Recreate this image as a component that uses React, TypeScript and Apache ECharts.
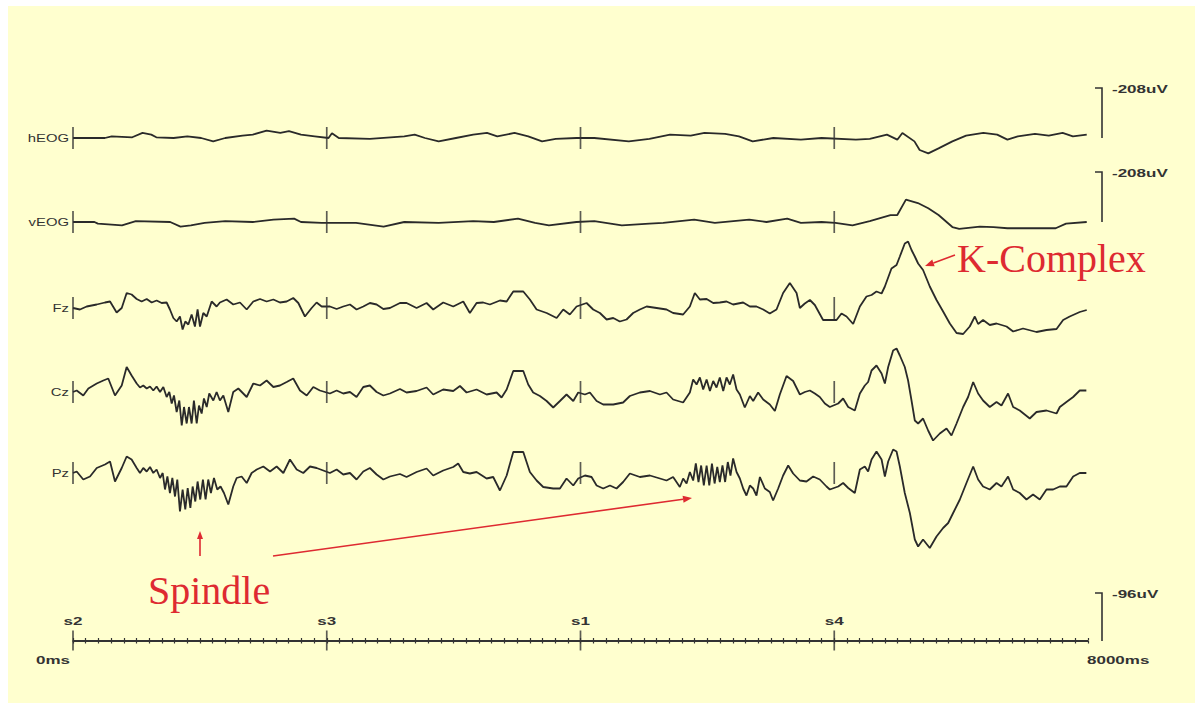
import React, { useEffect, useRef } from "react";
import * as echarts from "echarts";

// ---------- data ----------
const channelNames = ["hEOG", "vEOG", "Fz", "Cz", "Pz"];

// [time ms, amplitude µV]  (negative = upward, EEG convention)
const hEOG: number[][] = [[0,0],[251,0],[305,-7],[467,-3],[548,-21],[617,-14],[657,-3],[793,0],[901,-7],[1010,0],[1105,14],[1200,0],[1336,-10],[1417,-14],[1526,-31],[1634,-21],[1702,-29],[1797,-14],[1905,-7],[2014,0],[2041,-20],[2095,0],[2340,4],[2611,-7],[2693,-14],[2774,0],[2882,14],[3018,0],[3154,-14],[3263,-21],[3344,-7],[3480,-21],[3588,-7],[3697,14],[3805,4],[3968,0],[4109,0],[4381,14],[4543,4],[4706,-14],[4869,-10],[4977,-21],[5140,-17],[5249,-7],[5357,14],[5520,0],[5737,7],[5900,0],[6171,7],[6280,4],[6415,-14],[6497,7],[6537,-21],[6632,14],[6673,50],[6741,64],[6822,43],[6931,14],[7039,-10],[7175,-21],[7284,-14],[7365,7],[7447,-7],[7582,-17],[7691,-10],[7800,-21],[7881,-7],[7990,-14]];

const vEOG: number[][] = [[0,0],[169,0],[196,7],[386,14],[495,-4],[766,0],[847,19],[929,14],[1037,4],[1200,-4],[1417,0],[1580,-10],[1743,-14],[1797,0],[1960,4],[2069,4],[2231,4],[2448,19],[2611,0],[2882,4],[3154,-4],[3317,0],[3507,-14],[3642,4],[3751,14],[3968,0],[4109,-4],[4326,14],[4543,7],[4652,4],[4896,-10],[5059,4],[5330,-10],[5466,0],[5629,-14],[5737,4],[5900,0],[6009,4],[6144,14],[6280,-4],[6443,-29],[6497,-29],[6565,-93],[6659,-79],[6741,-57],[6822,-29],[6931,21],[6985,29],[7148,19],[7256,21],[7365,26],[7745,26],[7827,7],[7990,0]];

const Fz: number[][] = [[0,0],[55,3],[108,-3],[187,-7],[252,-11],[292,-13],[344,9],[384,0],[423,-30],[462,-27],[502,-18],[541,-13],[581,-18],[620,-11],[659,-15],[699,-10],[738,-11],[764,3],[791,20],[817,27],[843,17],[864,43],[885,27],[909,33],[935,13],[961,37],[982,3],[1001,37],[1027,10],[1054,17],[1093,-13],[1132,-3],[1158,-11],[1211,-17],[1263,-7],[1316,-11],[1369,3],[1421,-13],[1474,-18],[1526,-13],[1579,-17],[1631,-11],[1684,-13],[1736,-20],[1776,-10],[1828,17],[1881,0],[1920,-11],[1960,-3],[2025,-3],[2078,2],[2130,-3],[2183,-7],[2235,3],[2288,-3],[2340,-10],[2393,-7],[2446,2],[2498,0],[2577,-10],[2629,-10],[2708,0],[2787,-10],[2839,3],[2918,-11],[2997,-3],[3076,-13],[3128,10],[3181,-10],[3233,-11],[3286,-7],[3365,-15],[3418,-13],[3470,-33],[3549,-33],[3601,-17],[3654,3],[3733,10],[3812,20],[3864,3],[3916,13],[3969,-3],[4048,-10],[4100,3],[4153,10],[4206,23],[4258,20],[4310,27],[4363,23],[4415,10],[4468,3],[4521,-3],[4600,0],[4678,3],[4730,10],[4809,13],[4862,-3],[4901,-30],[4941,-17],[4994,-18],[5046,-10],[5098,-11],[5151,-13],[5203,-7],[5282,-11],[5335,-3],[5387,-3],[5440,3],[5492,11],[5545,3],[5597,-30],[5650,-50],[5703,-30],[5729,0],[5768,-9],[5808,-16],[5847,-6],[5912,24],[5965,24],[6018,24],[6057,11],[6097,17],[6149,32],[6202,-3],[6254,-23],[6294,-26],[6333,-33],[6373,-29],[6399,-43],[6451,-79],[6491,-86],[6517,-103],[6556,-129],[6582,-133],[6609,-116],[6635,-103],[6661,-89],[6700,-76],[6753,-43],[6806,-16],[6858,7],[6911,31],[6964,50],[7016,52],[7068,37],[7108,17],[7134,32],[7173,24],[7226,34],[7279,31],[7358,37],[7410,47],[7488,41],[7594,48],[7673,44],[7752,42],[7804,24],[7856,17],[7935,8],[7990,4]];

const Cz: number[][] = [[0,0],[29,-3],[81,7],[121,-7],[187,-17],[239,-23],[278,-27],[331,7],[384,-13],[423,-50],[462,-33],[502,-17],[528,-9],[554,-13],[581,-7],[607,-11],[633,-3],[659,-11],[686,0],[712,-10],[738,10],[759,0],[778,23],[796,7],[817,40],[838,17],[857,67],[875,30],[896,63],[914,30],[935,63],[953,17],[975,63],[993,27],[1014,43],[1032,13],[1054,30],[1074,3],[1106,17],[1132,0],[1158,17],[1185,7],[1224,40],[1263,0],[1303,-7],[1369,10],[1421,-17],[1474,-13],[1526,-23],[1579,-10],[1631,-13],[1684,-20],[1736,-27],[1789,-3],[1842,7],[1894,-10],[1946,-3],[2025,3],[2078,-3],[2130,3],[2183,0],[2235,10],[2288,-10],[2340,-13],[2393,0],[2446,7],[2498,3],[2577,-6],[2629,1],[2708,-2],[2787,-9],[2839,5],[2918,-5],[2997,-2],[3050,-12],[3102,1],[3181,-5],[3260,5],[3339,1],[3378,11],[3418,-5],[3470,-42],[3549,-42],[3588,-15],[3627,1],[3680,8],[3733,18],[3785,31],[3838,18],[3890,5],[3943,18],[3982,1],[4035,5],[4074,1],[4127,18],[4179,25],[4258,25],[4336,21],[4389,8],[4468,1],[4547,-2],[4626,5],[4678,1],[4730,15],[4809,21],[4862,1],[4888,-25],[4915,-15],[4941,-29],[4967,-5],[4994,-25],[5020,-2],[5046,-22],[5072,-9],[5098,-29],[5125,-2],[5151,-29],[5177,-15],[5203,-35],[5230,-5],[5256,5],[5295,31],[5335,8],[5361,18],[5400,1],[5440,15],[5492,25],[5532,38],[5571,5],[5624,-32],[5676,-22],[5729,5],[5768,0],[5808,-3],[5847,3],[5886,10],[5926,23],[5965,30],[6031,23],[6070,13],[6110,30],[6162,37],[6202,3],[6241,-13],[6267,-20],[6294,-43],[6333,-53],[6373,-37],[6399,-17],[6425,-50],[6464,-83],[6491,-87],[6517,-73],[6556,-50],[6582,-23],[6609,17],[6635,57],[6661,63],[6700,53],[6740,77],[6779,97],[6832,83],[6885,73],[6924,87],[6964,63],[7016,30],[7055,10],[7095,-20],[7134,3],[7173,17],[7226,30],[7279,20],[7318,27],[7370,3],[7410,30],[7462,37],[7541,53],[7594,40],[7673,37],[7752,43],[7778,30],[7830,20],[7883,10],[7935,-3],[7987,-3]];

const Pz: number[][] = [[0,0],[29,-3],[81,13],[134,7],[187,-10],[252,-17],[292,-23],[331,17],[384,-10],[423,-33],[462,-27],[502,-10],[528,0],[554,-10],[581,-3],[607,-12],[633,0],[659,-7],[686,10],[707,0],[725,33],[744,7],[764,40],[783,10],[804,47],[822,13],[843,77],[864,33],[885,73],[904,30],[925,70],[943,27],[964,57],[982,17],[1003,53],[1024,13],[1045,53],[1066,13],[1087,40],[1111,10],[1137,33],[1163,27],[1190,40],[1224,63],[1263,27],[1290,10],[1329,7],[1369,20],[1408,0],[1448,-7],[1500,-13],[1553,-3],[1605,-13],[1658,0],[1710,-27],[1763,-7],[1815,0],[1868,-13],[1920,-10],[2025,0],[2078,-7],[2130,3],[2183,0],[2235,13],[2288,-3],[2340,-10],[2393,3],[2446,13],[2498,7],[2577,2],[2629,8],[2708,-2],[2787,-9],[2839,5],[2918,-5],[2997,-12],[3036,-19],[3076,-2],[3128,1],[3181,-2],[3260,11],[3312,8],[3365,35],[3418,5],[3470,-42],[3549,-42],[3601,-2],[3654,15],[3706,28],[3785,31],[3838,31],[3890,11],[3943,25],[3982,11],[4035,5],[4087,8],[4127,25],[4179,31],[4232,25],[4284,31],[4336,18],[4389,1],[4468,8],[4547,5],[4626,11],[4678,15],[4730,8],[4783,28],[4809,11],[4836,21],[4862,-2],[4888,15],[4909,-19],[4930,18],[4951,-15],[4972,25],[4994,-15],[5015,25],[5036,-19],[5057,21],[5078,-12],[5098,18],[5119,-15],[5140,18],[5161,-22],[5182,5],[5203,-29],[5230,-2],[5256,11],[5282,31],[5308,45],[5335,25],[5361,31],[5387,45],[5414,8],[5453,31],[5492,38],[5518,55],[5558,31],[5597,5],[5637,-15],[5676,1],[5729,15],[5781,17],[5834,7],[5886,13],[5939,27],[5965,33],[6031,27],[6070,20],[6110,30],[6162,40],[6202,-7],[6241,-13],[6267,-3],[6294,-27],[6333,-43],[6373,-27],[6399,7],[6425,-23],[6464,-47],[6491,-43],[6517,-13],[6556,40],[6596,80],[6635,133],[6661,147],[6700,133],[6753,150],[6806,127],[6858,110],[6898,100],[6937,80],[6990,53],[7042,20],[7095,-13],[7134,13],[7173,27],[7226,33],[7279,20],[7318,27],[7370,7],[7410,33],[7462,40],[7515,53],[7567,43],[7620,53],[7673,33],[7725,33],[7778,27],[7830,27],[7883,7],[7935,0],[7987,0]];

const channelData = [hEOG, vEOG, Fz, Cz, Pz];

const markerTimes = [0, 2000, 4000, 6000];
const markerLabels = ["s2", "s3", "s1", "s4"];
const timeStart = 0;
const timeEnd = 8000;
const timeTickStep = 100;
const timeRangeLabels = ["0ms", "8000ms"];
const scaleBarValues = [208, 208, 96];
const scaleBarLabels = ["-208uV", "-208uV", "-96uV"];

// ---------- layout / style ----------
const PLOT_LEFT = 73;
const PLOT_RIGHT = 1088;
const PLOT_W = PLOT_RIGHT - PLOT_LEFT;
const baselines = [138, 222, 308, 392, 473];
const uvPerPx = [4.16, 4.16, 2, 2, 2];
const AXIS_Y = 640;
const HALF = 100;
const TRACE = "#2a2a2a";
const INK = "#333";
const RED = "#DE2A31";

const tx = (t: number) => PLOT_LEFT + ((t - timeStart) / (timeEnd - timeStart)) * PLOT_W;

function arrow(x1: number, y1: number, x2: number, y2: number, L = 9, w = 3.5) {
  const dx = x2 - x1, dy = y2 - y1;
  const len = Math.hypot(dx, dy);
  const ux = dx / len, uy = dy / len;
  const bx = x2 - ux * L, by = y2 - uy * L;
  const nx = -uy, ny = ux;
  return [
    { type: "line", silent: true, shape: { x1, y1, x2: bx, y2: by }, style: { stroke: RED, lineWidth: 1.6 } },
    { type: "polygon", silent: true, shape: { points: [[x2, y2], [bx + nx * w, by + ny * w], [bx - nx * w, by - ny * w]] }, style: { fill: RED } },
  ];
}

function smallText(text: string, x: number, y: number, align: string, size = 10, sx = 1.7, weight = "bold") {
  return {
    type: "text",
    silent: true,
    x,
    y,
    scaleX: sx,
    style: {
      text,
      fill: INK,
      font: `${weight} ${size}px "Liberation Sans", Arial, sans-serif`,
      textAlign: align,
      textVerticalAlign: "middle",
    },
  };
}

function buildOption() {
  const grids: any[] = [];
  const xAxes: any[] = [];
  const yAxes: any[] = [];
  const series: any[] = [];
  const graphic: any[] = [];

  channelNames.forEach((name, i) => {
    const R = HALF * uvPerPx[i];
    grids.push({ left: PLOT_LEFT, width: PLOT_W, top: baselines[i] - HALF, height: HALF * 2 });
    xAxes.push({ gridIndex: i, type: "value", min: timeStart, max: timeEnd, show: false });
    yAxes.push({ gridIndex: i, type: "value", min: -R, max: R, inverse: true, show: false });
    series.push({
      type: "line",
      xAxisIndex: i,
      yAxisIndex: i,
      data: channelData[i],
      showSymbol: false,
      symbol: "none",
      lineStyle: { color: TRACE, width: 1.8 },
      silent: true,
      z: 3,
    });
    series.push({
      type: "scatter",
      xAxisIndex: i,
      yAxisIndex: i,
      data: markerTimes.map((t) => [t, 0]),
      symbol: "rect",
      symbolSize: [1.7, 22],
      itemStyle: { color: INK },
      silent: true,
      z: 4,
    });
    graphic.push(smallText(name, PLOT_LEFT - 4, baselines[i], "right", 11, 1.35, "normal"));
  });

  // time axis grid
  const ti = channelNames.length;
  grids.push({ left: PLOT_LEFT, width: PLOT_W, top: AXIS_Y, height: 1 });
  const timeAxisBase = {
    gridIndex: ti,
    type: "value",
    min: timeStart,
    max: timeEnd,
    interval: timeTickStep,
    axisLine: { show: true, lineStyle: { color: INK, width: 1 } },
    axisTick: { show: true, length: 2.5, lineStyle: { color: INK, width: 1.2 } },
    axisLabel: { show: false },
    splitLine: { show: false },
  };
  xAxes.push({ ...timeAxisBase, position: "top" });
  xAxes.push({ ...timeAxisBase, position: "bottom" });
  yAxes.push({ gridIndex: ti, type: "value", min: -1, max: 1, show: false });
  series.push({
    type: "scatter",
    xAxisIndex: ti,
    yAxisIndex: ti,
    data: markerTimes.map((t) => [t, 0]),
    symbol: "rect",
    symbolSize: [1.7, 20],
    itemStyle: { color: INK },
    silent: true,
  });

  markerTimes.forEach((t, k) => graphic.push(smallText(markerLabels[k], tx(t), AXIS_Y - 19, "center")));
  graphic.push(smallText(timeRangeLabels[0], tx(timeStart) - 3, AXIS_Y + 20, "right"));
  graphic.push(smallText(timeRangeLabels[1], tx(timeEnd) - 1, AXIS_Y + 20, "left"));

  // scale bars
  const barBases = [baselines[0], baselines[1], AXIS_Y + 1];
  const barScale = [uvPerPx[0], uvPerPx[1], uvPerPx[2]];
  const BX = 1102;
  scaleBarValues.forEach((v, k) => {
    const bottom = barBases[k];
    const top = bottom - v / barScale[k];
    graphic.push({
      type: "polyline",
      silent: true,
      shape: { points: [[BX - 7, top], [BX, top], [BX, bottom]] },
      style: { stroke: INK, lineWidth: 1.6, fill: "none" },
    });
    graphic.push(smallText(scaleBarLabels[k], BX + 10, top + 1, "left"));
  });

  // annotations
  graphic.push({
    type: "text",
    silent: true,
    x: 957,
    y: 258,
    style: { text: "K-Complex", fill: RED, font: '40px "Liberation Serif", "Times New Roman", serif', textAlign: "left", textVerticalAlign: "middle" },
  });
  graphic.push({
    type: "text",
    silent: true,
    x: 148,
    y: 590,
    style: { text: "Spindle", fill: RED, font: '40px "Liberation Serif", "Times New Roman", serif', textAlign: "left", textVerticalAlign: "middle" },
  });
  graphic.push(...arrow(955, 255, 925, 266));
  graphic.push(...arrow(200, 556, 200, 531, 8, 3));
  graphic.push(...arrow(273, 556, 692, 498));

  return {
    animation: false,
    backgroundColor: "transparent",
    grid: grids,
    xAxis: xAxes,
    yAxis: yAxes,
    series,
    graphic: { elements: graphic },
  };
}

export default function App() {
  const ref = useRef<HTMLDivElement>(null);
  useEffect(() => {
    const chart = echarts.init(ref.current!, undefined, { renderer: "svg" });
    chart.setOption(buildOption() as any);
    return () => chart.dispose();
  }, []);
  return (
    <div style={{ position: "fixed", left: 0, top: 0, width: 1201, height: 709, background: "#ffffff" }}>
      <div style={{ position: "absolute", left: 8, top: 6, width: 1187, height: 697, background: "#FFFFCF" }} />
      <div ref={ref} style={{ position: "absolute", left: 0, top: 0, width: 1201, height: 709 }} />
    </div>
  );
}
